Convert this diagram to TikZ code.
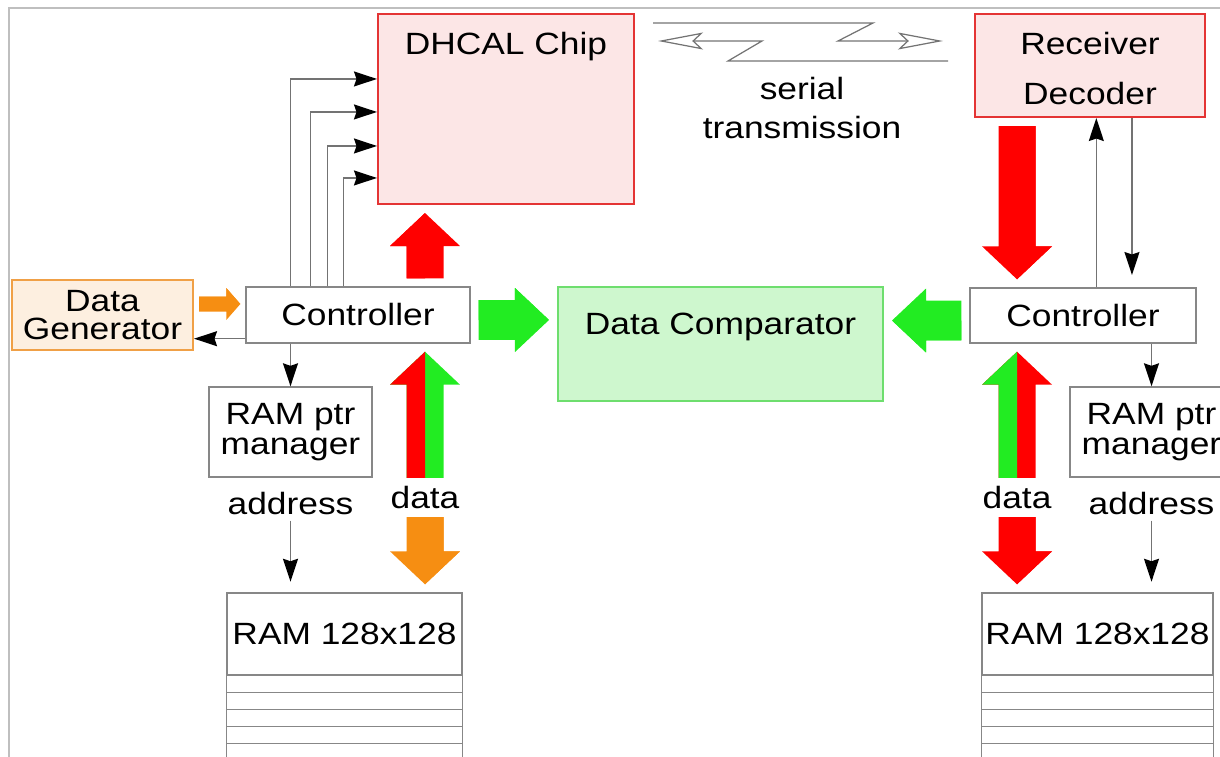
\documentclass[tikz,border=0pt]{standalone}
\usepackage{fontspec}
\setmainfont{Liberation Sans}[FakeStretch=1.15]
\usetikzlibrary{arrows.meta, positioning, calc}

\definecolor{chipred}{RGB}{228,52,52}
\definecolor{chipfill}{RGB}{252,230,230}
\definecolor{cmpgreen}{RGB}{110,222,110}
\definecolor{cmpfill}{RGB}{206,247,206}
\definecolor{genorange}{RGB}{240,160,70}
\definecolor{genfill}{RGB}{253,239,224}
\definecolor{busred}{RGB}{255,0,0}
\definecolor{busgreen}{RGB}{34,236,34}
\definecolor{busorange}{RGB}{246,142,18}
\definecolor{boxgray}{RGB}{135,135,135}

% wide bus arrows: half shaft, half head, head length, gap at both ends
\newcommand{\busdims}[4]{\def\shaftw{#1}\def\headw{#2}\def\headl{#3}\def\gapl{#4}}
\busdims{0.37cm}{0.70cm}{0.66cm}{0.16cm}

% wide arrow from #3 to #4, #1 fills its left half and #2 its right half
\newcommand{\busarrow}[4]{%
  \coordinate (ba-a) at #3;
  \coordinate (ba-b) at #4;
  \coordinate (ba-s) at ($(ba-a)!\gapl!(ba-b)$);
  \coordinate (ba-e) at ($(ba-b)!\gapl!(ba-a)$);
  \coordinate (ba-h) at ($(ba-e)!\headl!(ba-s)$);
  \fill[#2] ($(ba-s)!\shaftw!90:(ba-e)$) -- ($(ba-h)!\shaftw!90:(ba-e)$) -- ($(ba-h)!\headw!90:(ba-e)$) -- (ba-e)
    -- ($(ba-h)!\headw!-90:(ba-e)$) -- ($(ba-h)!\shaftw!-90:(ba-e)$) -- ($(ba-s)!\shaftw!-90:(ba-e)$) -- cycle;
  \fill[#1] (ba-s) -- ($(ba-s)!\shaftw!90:(ba-e)$) -- ($(ba-h)!\shaftw!90:(ba-e)$) -- ($(ba-h)!\headw!90:(ba-e)$) -- (ba-e) -- cycle;
}

\begin{document}
\begin{tikzpicture}[x=0.02cm, y=-0.02cm, every node/.style={font=\fontsize{17.5}{21}\selectfont},
    box/.style={draw=boxgray, fill=white, line width=0.8pt, inner sep=0pt, align=center},
    ctl/.style={draw=black!55, line width=0.8pt, -{Stealth[length=0.46cm, width=0.3cm, inset=0.05cm, black]}},
    wire/.style={draw=black!55, line width=0.7pt, -{Stealth[open, length=0.9cm, width=0.34cm, inset=0.18cm]}}]
    \useasboundingbox (0,0) rectangle (1220,757);
    \clip (0,0) rectangle (1220,757);

    % page frame
    \draw[black!25, line width=1.1pt] (9,757) |- (1220,8);

    % Chip and readout
    \node[box, draw=chipred, fill=chipfill, line width=1.2pt, minimum width=5.12cm, minimum height=3.8cm,
          label={[anchor=north, inner sep=3pt, yshift=-8pt]north:DHCAL Chip}] (chip) at (506,109) {};
    \node[box, draw=chipred, fill=chipfill, line width=1.2pt, minimum width=4.6cm, minimum height=2.06cm,
          label={[anchor=north, align=center, inner sep=3pt, yshift=-8pt, font=\fontsize{17.5}{28.5}\selectfont]north:Receiver\\Decoder}] (recv) at (1090,65.5) {};
    \node[align=center, inner sep=0pt, font=\fontsize{17.5}{22.2}\selectfont] (serial) at (802,108) {serial\\transmission};

    % Controllers and comparator
    \node[box, minimum width=4.48cm, minimum height=1.12cm] (ctrlL) at (358,315) {Controller};
    \node[box, minimum width=4.52cm, minimum height=1.1cm] (ctrlR) at (1083,315.5) {Controller};
    \node[box, draw=cmpgreen, fill=cmpfill, line width=1.2pt, minimum width=6.5cm, minimum height=2.28cm,
          label={[anchor=north, inner sep=3pt, yshift=-12pt]north:Data Comparator}] (comp) at (720.5,344) {};
    \node[box, draw=genorange, fill=genfill, line width=1.2pt, minimum width=3.62cm, minimum height=1.4cm,
          font=\fontsize{17.5}{16}\selectfont] (gen) at (102.5,315) {Data\\Generator};

    % RAM pointers and memories
    \node[box, minimum width=3.26cm, minimum height=1.8cm, font=\fontsize{17.5}{17}\selectfont] (ptrL) at (290.5,432) {RAM ptr\\manager};
    \node[box, minimum width=3.26cm, minimum height=1.8cm, font=\fontsize{17.5}{17}\selectfont] (ptrR) at (1151.5,432) {RAM ptr\\manager};
    \node[below=0.18cm of ptrL, inner sep=3pt] (addrL) {address};
    \node[below=0.18cm of ptrR, inner sep=3pt] (addrR) {address};
    \node[box, minimum width=4.7cm, minimum height=1.64cm] (ramL) at (344.5,634) {RAM 128x128};
    \node[box, minimum width=4.62cm, minimum height=1.64cm] (ramR) at (1097.5,634) {RAM 128x128};
    \foreach \r in {ramL, ramR} {
      \draw[boxgray, line width=0.8pt] (\r.south west) -- ++(0,100) (\r.south east) -- ++(0,100);
      \foreach \k in {1,...,5}
        \draw[boxgray, line width=0.8pt] ($(\r.south west)+(0,17*\k)$) -- ($(\r.south east)+(0,17*\k)$);
    }
    \node[inner sep=0pt] (dataL) at (425,497.5) {data};
    \node[inner sep=0pt] (dataR) at (1017,497.5) {data};

    % serial link
    \draw[wire] (653,23) -- (873,23) -- (838,41) -- (943,41);
    \draw[wire] (948,61) -- (728,61) -- (762,41) -- (658,41);

    % control lines
    \foreach \dx/\dy in {45/66, 65/99, 82/133, 98/165}
      \draw[ctl] ($(ctrlL.north west)+(\dx,0)$) |- ($(chip.north west)+(0,\dy)$);
    \draw[ctl] ($(ctrlL.south west)+(0,-5)$) coordinate (ret) -- (ret -| gen.east);
    \draw[ctl] ($(ctrlR.north west)+(127,0)$) coordinate (up) -- (up |- recv.south);
    \draw[ctl, shorten >=7pt] ($(recv.south west)+(158,0)$) coordinate (dn) -- (dn |- ctrlR.north);
    \draw[ctl] (ptrL.north |- ctrlL.south) -- (ptrL.north);
    \draw[ctl] (ptrR.north |- ctrlR.south) -- (ptrR.north);
    \draw[ctl, shorten >=6pt] (addrL.south) -- (addrL.south |- ramL.north);
    \draw[ctl, shorten >=6pt] (addrR.south) -- (addrR.south |- ramR.north);

    % data buses
    \busarrow{busred}{busred}{(dataL |- ctrlL.north)}{(dataL |- chip.south)}
    \busarrow{busred}{busgreen}{(dataL.north)}{(dataL |- ctrlL.south)}
    \busarrow{busorange}{busorange}{(dataL.south)}{(dataL |- ramL.north)}
    \busarrow{busred}{busred}{(dataR |- recv.south)}{(dataR |- ctrlR.north)}
    \busarrow{busgreen}{busred}{(dataR.north)}{(dataR |- ctrlR.south)}
    \busarrow{busred}{busred}{(dataR.south)}{(dataR |- ramR.north)}
    \busdims{0.40cm}{0.64cm}{0.68cm}{0.16cm}
    \busarrow{busgreen}{busgreen}{($(ctrlL.east)+(0,5)$)}{($(ctrlL.east -| comp.west)+(0,5)$)}
    \busarrow{busgreen}{busgreen}{($(ctrlR.west)+(0,5)$)}{($(ctrlR.west -| comp.east)+(0,5)$)}
    \busdims{0.15cm}{0.32cm}{0.28cm}{0.1cm}
    \busarrow{busorange}{busorange}{($(gen.east)+(0,-11)$)}{($(gen.east -| ctrlL.west)+(0,-11)$)}
  \end{tikzpicture}
\end{document}
